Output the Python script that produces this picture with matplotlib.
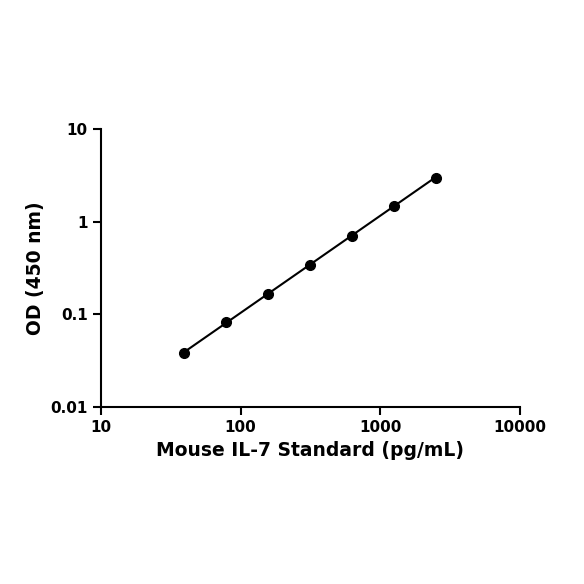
import matplotlib
matplotlib.use("Agg")
import matplotlib.pyplot as plt
import numpy as np

conc = [39.06, 78.125, 156.25, 312.5, 625, 1250, 2500]
od = [0.038, 0.082, 0.165, 0.345, 0.71, 1.48, 2.98]
xticks = [10, 100, 1000, 10000]
xlabels = ["10", "100", "1000", "10000"]
yticks = [0.01, 0.1, 1, 10]
ylabels = ["0.01", "0.1", "1", "10"]

plt.rcParams['font.family'] = ['DejaVu Sans']
fig = plt.figure(figsize=(5.84, 5.84), dpi=100)
ax = fig.add_axes([0.173, 0.303, 0.717, 0.476])
lx = np.log10(conc); ly = np.log10(od)
m, b = np.polyfit(lx, ly, 1)
xf = np.array([min(conc), max(conc)])
ax.plot(xf, 10**(b + m*np.log10(xf)), color='black', lw=1.5)
ax.plot(conc, od, 'o', color='black', ms=7)
ax.set_xscale('log'); ax.set_yscale('log')
ax.set_xlim(10, 10000); ax.set_ylim(0.01, 10)
ax.set_xticks(xticks); ax.set_xticklabels(xlabels)
ax.set_yticks(yticks); ax.set_yticklabels(ylabels)
ax.minorticks_off()
for s in ['top', 'right']:
    ax.spines[s].set_visible(False)
for s in ['left', 'bottom']:
    ax.spines[s].set_linewidth(1.5)
ax.tick_params(direction='out', width=1.5, length=6, labelsize=11)
for t in ax.get_xticklabels() + ax.get_yticklabels():
    t.set_fontweight('bold')
ax.set_xlabel('Mouse IL-7 Standard (pg/mL)', fontsize=13.5, fontweight='bold')
ax.set_ylabel('OD (450 nm)', fontsize=13.5, fontweight='bold')
fig.savefig('out.png', dpi=100)
